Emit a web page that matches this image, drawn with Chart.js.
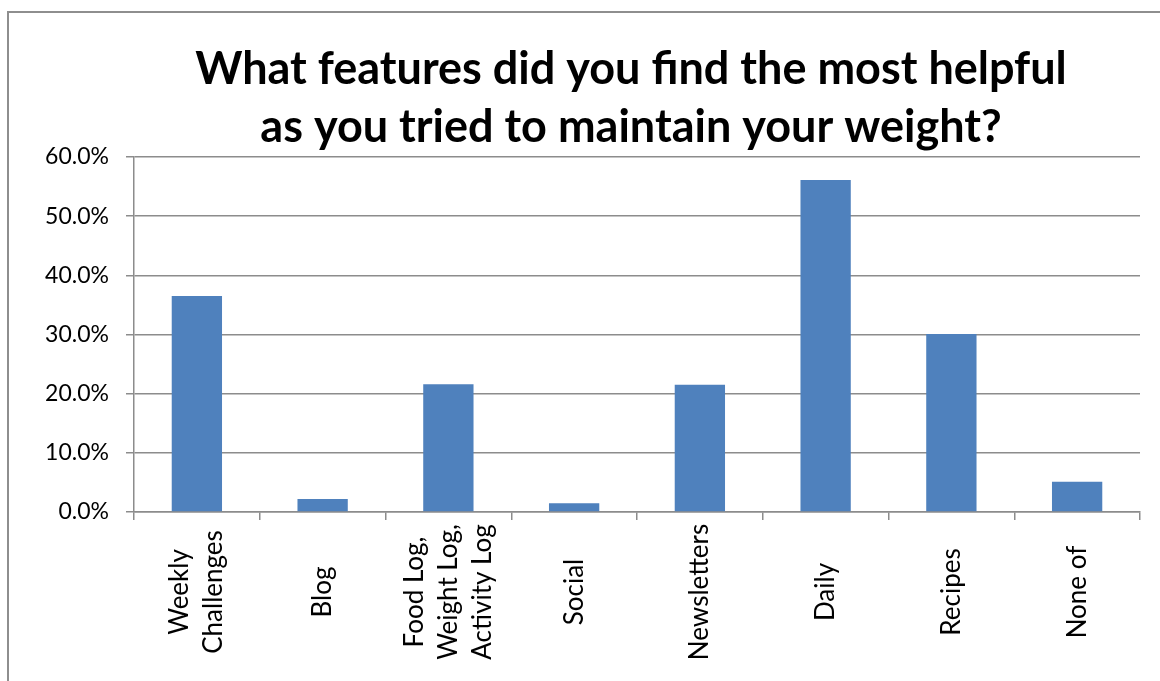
<!DOCTYPE html>
<html>
<head>
<meta charset="utf-8">
<title>Helpful features</title>
<script src="https://cdn.jsdelivr.net/npm/chart.js@4/dist/chart.umd.min.js"></script>
<style>
  html, body { margin: 0; padding: 0; background: #fff; overflow: hidden; }
  #wrap { position: relative; width: 1160px; height: 681px; }
  #frame { position: absolute; left: 7px; top: 11px; width: 1300px; height: 900px;
           border: 2px solid #8e8e8e; box-sizing: border-box; }
  canvas { position: absolute; left: 0; top: 0; }
</style>
</head>
<body>
<div id="wrap">
  <div id="frame"></div>
  <canvas id="featChart" width="1160" height="681"></canvas>
</div>
<script>
// Survey answers, share of respondents in percent
const categories = [
    ['Weekly', 'Challenges'],
    ['Blog'],
    ['Food Log,', 'Weight Log,', 'Activity Log'],
    ['Social'],
    ['Newsletters'],
    ['Daily'],
    ['Recipes'],
    ['None of']
];
const shares = [36.5, 2.2, 21.6, 1.5, 21.5, 56.1, 30.1, 5.1];
const titleLines = [
    'What features did you find the most helpful',
    'as you tried to maintain your weight?'
];

const gridGray = '#8c8c8c';
const labelFont = '26px Lato, "Liberation Sans", sans-serif';

// Title drawn by hand so it can sit over the plot rather than the canvas centre
const titlePlugin = {
    id: 'twoLineTitle',
    afterDraw(chart) {
        const ctx = chart.ctx;
        ctx.save();
        ctx.fillStyle = '#000';
        ctx.font = 'bold 45px Lato, "Liberation Sans", sans-serif';
        ctx.textAlign = 'center';
        ctx.textBaseline = 'alphabetic';
        ctx.fillText(titleLines[0], 631, 84);
        ctx.fillText(titleLines[1], 631, 142);
        ctx.restore();
    }
};

// Vertical category labels, each line centred like the spreadsheet does it
const xLabelPlugin = {
    id: 'verticalLabels',
    afterDraw(chart) {
        const ctx = chart.ctx;
        const xs = chart.scales.x;
        const midY = xs.top + 80;
        const lineGap = 34;
        ctx.save();
        ctx.fillStyle = '#000';
        ctx.font = labelFont;
        ctx.textAlign = 'center';
        ctx.textBaseline = 'middle';
        categories.forEach((lines, i) => {
            const cx = xs.getPixelForTick(i);
            const first = cx - (lines.length - 1) * lineGap / 2;
            lines.forEach((txt, j) => {
                ctx.save();
                ctx.translate(first + j * lineGap, midY);
                ctx.rotate(-Math.PI / 2);
                ctx.fillText(txt, 0, 0);
                ctx.restore();
            });
        });
        ctx.restore();
    }
};

const ctx = document.getElementById('featChart').getContext('2d');
const featChart = new Chart(ctx, {
    type: 'bar',
    data: {
        labels: categories.map(c => c.join(' ')),
        datasets: [{
            data: shares,
            backgroundColor: '#4f81bd',
            borderWidth: 0,
            barPercentage: 0.4,
            categoryPercentage: 1.0
        }]
    },
    options: {
        responsive: false,
        animation: false,
        layout: { padding: { left: 0, right: 20, top: 157, bottom: 0 } },
        plugins: {
            legend: { display: false },
            title: { display: false },
            tooltip: { enabled: false }
        },
        scales: {
            x: {
                offset: true,
                grid: {
                    offset: true,
                    drawOnChartArea: false,
                    drawTicks: true,
                    tickLength: 8,
                    color: gridGray,
                    lineWidth: 1.5
                },
                border: { color: gridGray, width: 1.5 },
                ticks: { display: false },
                afterFit: s => { s.height = 169; }
            },
            y: {
                min: 0,
                max: 60,
                grid: { color: gridGray, lineWidth: 1.5, tickLength: 8 },
                border: { color: gridGray, width: 1.5 },
                ticks: {
                    stepSize: 10,
                    padding: 17,
                    color: '#000',
                    font: { family: 'Lato, "Liberation Sans", sans-serif', size: 23 },
                    callback: v => v.toFixed(1) + '%'
                },
                afterFit: s => { s.width = 134; }
            }
        }
    },
    plugins: [titlePlugin, xLabelPlugin]
});
</script>
</body>
</html>
